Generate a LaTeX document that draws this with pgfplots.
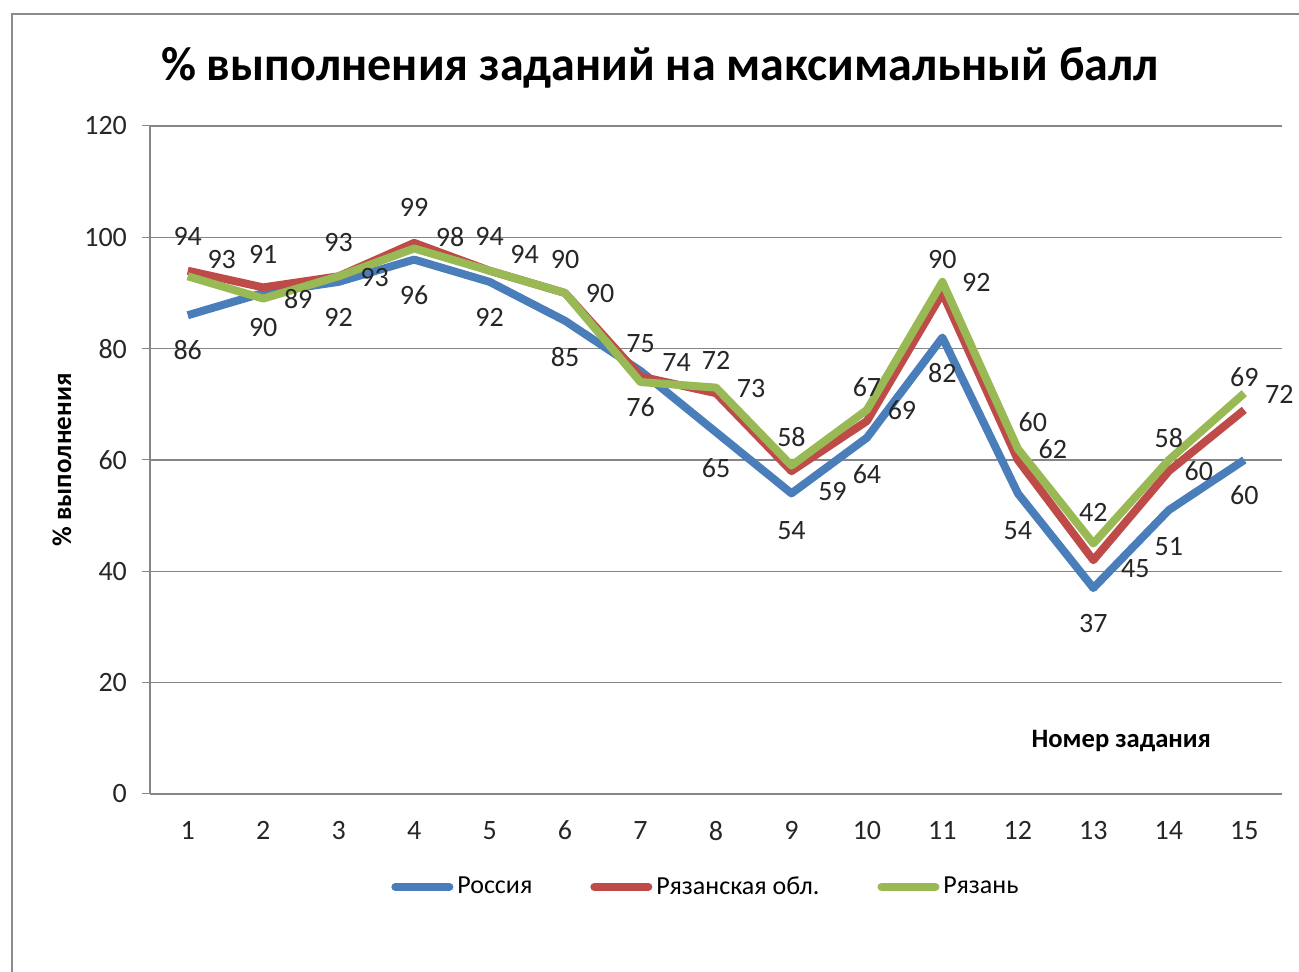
\documentclass[border=0pt]{standalone}
\usepackage{fontspec}
\setmainfont{Carlito}
\usepackage{pgfplots}
\pgfplotsset{compat=1.18}
\usepackage{pgfplotstable}
\definecolor{cRus}{HTML}{4A7EBB}
\definecolor{cObl}{HTML}{BE4B48}
\definecolor{cRyaz}{HTML}{98B954}
\definecolor{cGrid}{HTML}{868686}
\definecolor{cFrame}{HTML}{8C8C8C}

% x  value  dx(pt)  dy(pt, up)
\pgfplotstableread{
x y dx dy
1 86 0 -17.5
2 90 0 -17.5
3 92 0 -18
4 96 0 -18
5 92 0 -18
6 85 0 -18
7 76 0 -18
8 65 0 -18
9 54 0 -18.5
10 64 0 -18
11 82 0 -18
12 54 0 -18.5
13 37 0 -17.5
14 51 0 -18
15 60 0 -17.5
}\russia
\pgfplotstableread{
x y dx dy
1 94 0 17
2 91 0 16.5
3 93 0 17
4 99 0 17.5
5 94 0 17
6 90 0 16.5
7 75 0 16.5
8 72 0 16.5
9 58 0 17
10 67 0 17
11 90 0 16.5
12 60 7.5 19
13 42 0 24
14 58 0 16.5
15 69 0 16.5
}\oblast
\pgfplotstableread{
x y dx dy
1 93 17 8.5
2 89 17.5 0
3 93 18 -0.5
4 98 18 5.5
5 94 17.5 8
6 90 17.5 -0.5
7 74 18 10
8 73 17.5 -0.5
9 59 20.5 -13
10 69 17.5 0
11 92 17 -0.5
12 62 17.5 0
13 45 21 -12.5
14 60 15 -5.5
15 72 17.5 -0.5
}\ryazan

\begin{document}
\begin{tikzpicture}
\begin{axis}[
  scale only axis,
  width=566pt, height=334pt,
  xmin=0.5, xmax=15.5,
  ymin=0, ymax=120,
  xtick={1,...,15},
  ytick={0,20,...,120},
  axis line style={draw=none},
  xtick style={draw=none},
  ytick pos=left,
  tick align=outside,
  major tick length=4pt,
  ytick style={cGrid, line width=0.5pt},
  ymajorgrids,
  grid style={cGrid, line width=0.6pt},
  /pgf/number format/assume math mode=true,
  ticklabel style={font=\fontsize{14}{16}\selectfont, text=black!85},
  yticklabel style={xshift=-4pt},
  xticklabel style={yshift=-6pt},
  clip=false,
  legend style={at={(axis description cs:0.492,-0.139)}, anchor=center,
    draw=none, fill=none, font=\fontsize{13}{15}\selectfont,
    legend columns=3,
    /tikz/every even column/.append style={column sep=27pt},
    nodes={inner xsep=2pt}},
  legend image code/.code={\draw[#1, line cap=round] (0pt,0pt) -- (27pt,0pt);},
  nodes near coords,
  point meta=explicit,
  every node near coord/.append style={font=\fontsize{14}{16}\selectfont, text=black!85, anchor=center, inner sep=0pt},
  visualization depends on={\thisrow{dx} \as \dx},
  visualization depends on={\thisrow{dy} \as \dy},
  nodes near coords style={xshift=\dx pt, yshift=\dy pt},
]
\draw[cGrid, line width=0.6pt] (rel axis cs:0,0) -- (rel axis cs:0,1);
\addplot[cRus, line width=4pt, line join=round, mark=none] table[x=x, y=y, meta=y] {\russia};
\addlegendentry{Россия}
\addplot[cObl, line width=4pt, line join=round, mark=none] table[x=x, y=y, meta=y] {\oblast};
\addlegendentry{Рязанская обл.}
\addplot[cRyaz, line width=4pt, line join=round, mark=none] table[x=x, y=y, meta=y] {\ryazan};
\addlegendentry{Рязань}
\node[font=\bfseries\fontsize{13.3}{15}\selectfont, anchor=center] at (axis description cs:0.858,0.079) {Номер задания};
\end{axis}
\node[font=\bfseries\fontsize{24}{28}\selectfont] at (255pt,363pt) {\% выполнения заданий на максимальный балл};
\node[font=\bfseries\fontsize{13.5}{15}\selectfont, rotate=90] at (-44pt,167pt) {\% выполнения};
\draw[cFrame, line width=1.2pt] (-69pt,-95pt) -- (-69pt,390pt) -- (580pt,390pt);
\pgfresetboundingbox
\useasboundingbox (-75pt,-89pt) rectangle (574.5pt,397pt);
\end{tikzpicture}
\end{document}
